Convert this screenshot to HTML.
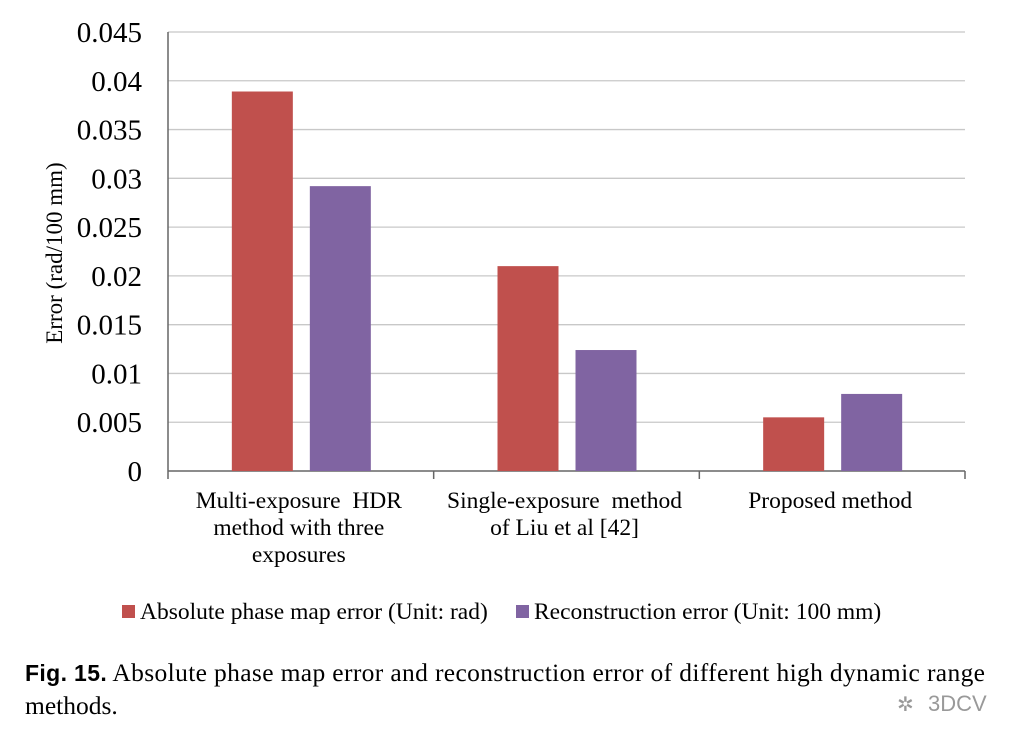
<!DOCTYPE html>
<html><head><meta charset="utf-8"><style>
body{margin:0;background:#fff;width:1022px;height:744px;overflow:hidden;font-family:"Liberation Serif",serif}
</style></head><body>
<svg id="chart" width="1022" height="744" xmlns="http://www.w3.org/2000/svg" font-family="Liberation Serif, serif"></svg>
<script>
const categories=[["Multi-exposure  HDR","method with three","exposures"],["Single-exposure  method","of Liu et al [42]"],["Proposed method"]];
const phaseErr=[0.0389,0.0210,0.0055];
const reconErr=[0.0292,0.0124,0.0079];
const yTicks=["0","0.005","0.01","0.015","0.02","0.025","0.03","0.035","0.04","0.045"];
const yTickVals=[0,0.005,0.01,0.015,0.02,0.025,0.03,0.035,0.04,0.045];
const svg=document.getElementById('chart');const NS="http://www.w3.org/2000/svg";
const L=168,R=965,T=32,B=471,ymax=0.045;
const y=v=>B-(v/ymax)*(B-T);
const cw=(R-L)/categories.length;
function mk(t,a,txt){const e=document.createElementNS(NS,t);for(const k in a)e.setAttribute(k,a[k]);if(txt!=null)e.textContent=txt;svg.appendChild(e);return e;}
yTickVals.forEach((v,i)=>{
 if(v>0){const g=mk('line',{x1:L,x2:R,y1:y(v),y2:y(v),stroke:'#c8c8c8','stroke-width':1.3});
 
 }
 const t=mk('text',{x:142,y:y(v)+10,'text-anchor':'end','font-size':29},yTicks[i]);
 
 
});
let ax=mk('line',{x1:L,x2:L,y1:T,y2:B,stroke:'#666','stroke-width':1.5});


ax=mk('line',{x1:L,x2:R,y1:B,y2:B,stroke:'#666','stroke-width':1.5});


for(let i=0;i<=categories.length;i++){const tk=mk('line',{x1:L+i*cw,x2:L+i*cw,y1:B,y2:B+8,stroke:'#666','stroke-width':1.5});
 
 }
categories.forEach((c,i)=>{
 const cx=L+cw*(i+0.5);
 const b1=mk('rect',{x:cx-69,y:y(phaseErr[i]),width:61,height:B-y(phaseErr[i]),fill:'#C0504D'});
 
 
 const b2=mk('rect',{x:cx+9,y:y(reconErr[i]),width:61,height:B-y(reconErr[i]),fill:'#8064A2'});
 
 
 c.forEach((ln,j)=>{const t=mk('text',{x:cx-2,y:508+j*27,'text-anchor':'middle','font-size':23.5},ln);
 t.style.whiteSpace='pre';
 
 });
});
let t=mk('text',{x:62,y:253,'text-anchor':'middle','font-size':23,transform:'rotate(-90 62 253)'},'Error (rad/100 mm)');


let r=mk('rect',{x:122,y:605,width:13,height:13,fill:'#C0504D'});


t=mk('text',{x:140,y:619,'font-size':23.5},'Absolute phase map error (Unit: rad)');


r=mk('rect',{x:516,y:605,width:13,height:13,fill:'#8064A2'});


t=mk('text',{x:534,y:619,'font-size':23.5},'Reconstruction error (Unit: 100 mm)');


t=mk('text',{x:25,y:681,'font-size':25.5,textLength:960,lengthAdjust:'spacing'});


t.innerHTML='<tspan font-family="Liberation Sans, sans-serif" font-weight="bold" font-size="23">Fig. 15.</tspan> Absolute phase map error and reconstruction error of different high dynamic range';
t=mk('text',{x:25,y:714,'font-size':25.5},'methods.');


t=mk('text',{x:897,y:711,'font-size':20,fill:'#999','font-family':'Liberation Sans, sans-serif'},'✲');


t=mk('text',{x:928,y:711,'font-size':22,fill:'#999','font-family':'Liberation Sans, sans-serif'},'3DCV');


</script>
</body></html>
